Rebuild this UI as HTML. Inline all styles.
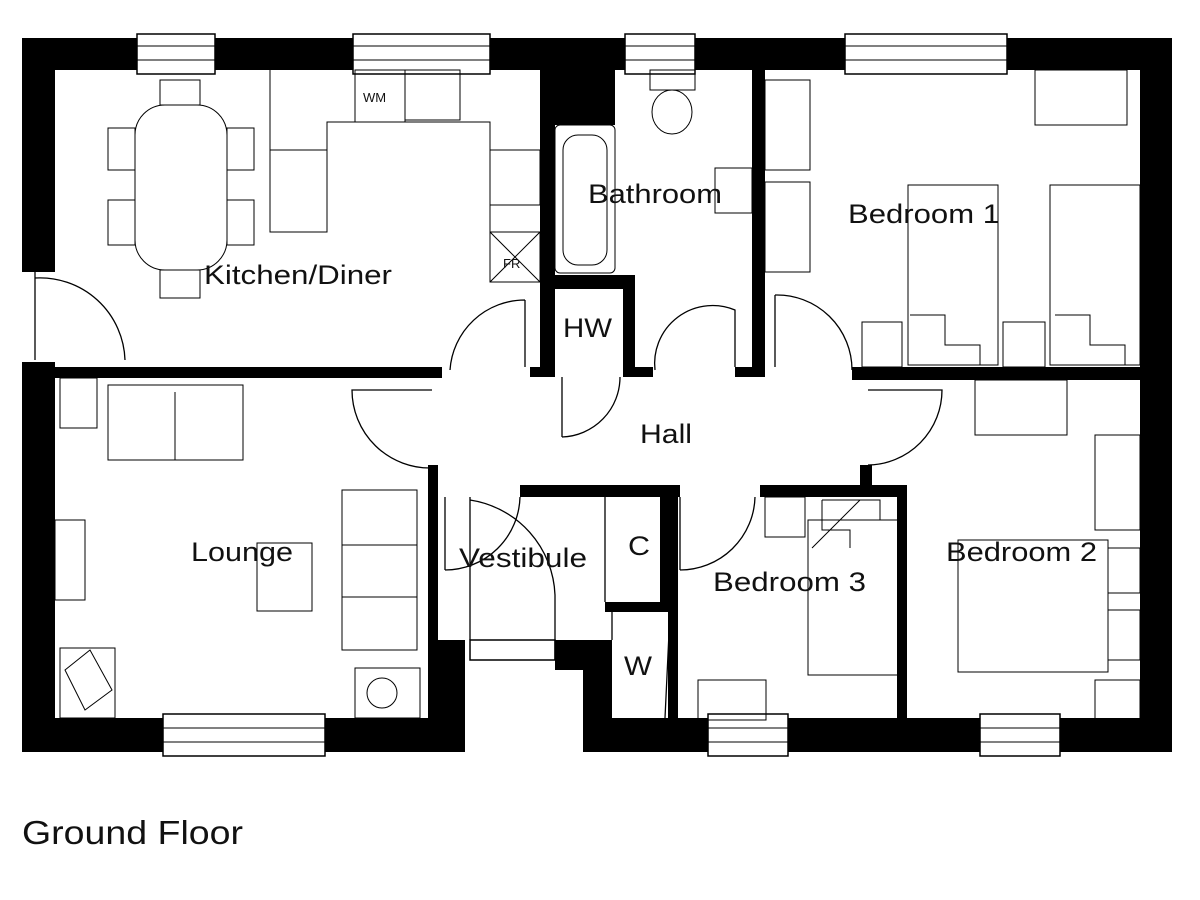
<!DOCTYPE html>
<html><head><meta charset="utf-8"><style>
html,body{margin:0;padding:0;background:#fff;}
svg{display:block;}
text{font-family:"Liberation Sans",Arial,sans-serif;fill:#111;}
</style></head><body>
<svg width="1200" height="900" viewBox="0 0 1200 900">
<g fill="#000">
<rect x="22" y="38" width="1150" height="32"/>
<rect x="22" y="38" width="33" height="234"/>
<rect x="22" y="362" width="33" height="390"/>
<rect x="1140" y="38" width="32" height="714"/>
<rect x="22" y="718" width="436" height="34"/>
<rect x="428" y="640" width="37" height="112"/>
<rect x="583" y="718" width="589" height="34"/>
<rect x="555" y="640" width="57" height="30"/>
<rect x="583" y="640" width="29" height="112"/>
<rect x="22" y="367" width="420" height="11"/>
<rect x="428" y="465" width="10" height="180"/>
<rect x="540" y="38" width="15" height="337"/>
<rect x="540" y="70" width="75" height="55"/>
<rect x="530" y="367" width="25" height="10"/>
<rect x="543" y="275" width="92" height="14"/>
<rect x="623" y="275" width="12" height="102"/>
<rect x="623" y="367" width="30" height="10"/>
<rect x="752" y="70" width="13" height="307"/>
<rect x="735" y="367" width="30" height="10"/>
<rect x="852" y="367" width="320" height="13"/>
<rect x="520" y="485" width="160" height="12"/>
<rect x="760" y="485" width="147" height="12"/>
<rect x="860" y="465" width="12" height="32"/>
<rect x="897" y="485" width="10" height="235"/>
<rect x="660" y="485" width="10" height="127"/>
<rect x="605" y="602" width="65" height="10"/>
<rect x="668" y="485" width="10" height="235"/>
</g>
<g fill="#fff" stroke="#000" stroke-width="1.5">
<rect x="137" y="34" width="78" height="40"/>
<rect x="353" y="34" width="137" height="40"/>
<rect x="625" y="34" width="70" height="40"/>
<rect x="845" y="34" width="162" height="40"/>
<rect x="163" y="714" width="162" height="42"/>
<rect x="708" y="714" width="80" height="42"/>
<rect x="980" y="714" width="80" height="42"/>
<rect x="470" y="640" width="85" height="20"/>
</g>
<g stroke="#000" stroke-width="1">
<line x1="137" y1="46" x2="215" y2="46"/><line x1="137" y1="60" x2="215" y2="60"/>
<line x1="353" y1="46" x2="490" y2="46"/><line x1="353" y1="60" x2="490" y2="60"/>
<line x1="625" y1="46" x2="695" y2="46"/><line x1="625" y1="60" x2="695" y2="60"/>
<line x1="845" y1="46" x2="1007" y2="46"/><line x1="845" y1="60" x2="1007" y2="60"/>
<line x1="163" y1="728" x2="325" y2="728"/><line x1="163" y1="742" x2="325" y2="742"/>
<line x1="708" y1="728" x2="788" y2="728"/><line x1="708" y1="742" x2="788" y2="742"/>
<line x1="980" y1="728" x2="1060" y2="728"/><line x1="980" y1="742" x2="1060" y2="742"/>
</g>
<g fill="none" stroke="#000" stroke-width="1.3">
<path d="M35 272 L35 360 M35 278 A85 85 0 0 1 125 360"/>
<path d="M525 300 L525 367 M525 300 A75 75 0 0 0 450 370"/>
<path d="M562 377 L562 437 M562 437 A60 60 0 0 0 620 377"/>
<path d="M655 370 A58 58 0 0 1 735 310 L735 367"/>
<path d="M775 295 L775 367 M775 295 A75 75 0 0 1 852 370"/>
<path d="M432 390 L352 390 A78 78 0 0 0 432 468"/>
<path d="M868 390 L942 390 A75 75 0 0 1 868 465"/>
<path d="M445 497 L445 570 M445 570 A75 75 0 0 0 520 497"/>
<path d="M470 497 L470 640 M555 660 L555 595 A100 100 0 0 0 470 500"/>
<path d="M680 497 L680 570 M680 570 A75 75 0 0 0 755 497"/>
<path d="M605 497 L605 602 M612 612 L612 640 M670 612 L665 718"/>
</g>
<g fill="none" stroke="#000" stroke-width="1">
<rect x="135" y="105" width="92" height="165" rx="30"/>
<rect x="160" y="80" width="40" height="25"/><rect x="160" y="270" width="40" height="28"/>
<rect x="108" y="128" width="27" height="42"/><rect x="108" y="200" width="27" height="45"/>
<rect x="227" y="128" width="27" height="42"/><rect x="227" y="200" width="27" height="45"/>
<path d="M270 70 L270 232 L327 232 L327 122 L490 122 L490 282 L540 282 M270 150 L327 150"/>
<rect x="355" y="70" width="50" height="52"/><rect x="405" y="70" width="55" height="50"/>
<rect x="490" y="150" width="50" height="55"/><rect x="490" y="232" width="50" height="50"/>
<path d="M490 232 L540 282 M540 232 L490 282"/>
<rect x="555" y="125" width="60" height="148" rx="5"/><rect x="563" y="135" width="44" height="130" rx="15"/>
<rect x="650" y="70" width="45" height="20"/><ellipse cx="672" cy="112" rx="20" ry="22"/>
<rect x="715" y="168" width="37" height="45"/>
<rect x="765" y="80" width="45" height="90"/><rect x="765" y="182" width="45" height="90"/>
<rect x="1035" y="70" width="92" height="55"/>
<rect x="908" y="185" width="90" height="180"/><rect x="1050" y="185" width="90" height="180"/>
<rect x="862" y="322" width="40" height="45"/><rect x="1003" y="322" width="42" height="45"/>
<path d="M910 315 L945 315 L945 345 L980 345 L980 365 M1055 315 L1090 315 L1090 345 L1125 345 L1125 365"/>
<rect x="60" y="378" width="37" height="50"/>
<rect x="108" y="385" width="135" height="75"/><line x1="175" y1="392" x2="175" y2="460"/>
<rect x="342" y="490" width="75" height="160"/><line x1="342" y1="545" x2="417" y2="545"/><line x1="342" y1="597" x2="417" y2="597"/>
<rect x="55" y="520" width="30" height="80"/>
<rect x="257" y="543" width="55" height="68"/>
<rect x="60" y="648" width="55" height="70"/><path d="M65 670 L90 650 L112 690 L85 710 Z"/>
<rect x="355" y="668" width="65" height="50"/><circle cx="382" cy="693" r="15"/>
<rect x="975" y="380" width="92" height="55"/><rect x="1095" y="435" width="45" height="95"/>
<rect x="958" y="540" width="150" height="132"/><rect x="1108" y="548" width="32" height="45"/><rect x="1108" y="610" width="32" height="50"/>
<rect x="1095" y="680" width="45" height="40"/>
<rect x="808" y="520" width="90" height="155"/><rect x="765" y="497" width="40" height="40"/>
<path d="M822 500 L880 500 L880 520 M822 500 L822 530 L850 530 L850 548 M812 548 L860 500"/>
<rect x="698" y="680" width="68" height="40"/>
</g>
<g font-size="27">
<text x="204" y="284" textLength="188" lengthAdjust="spacingAndGlyphs">Kitchen/Diner</text>
<text x="588" y="203" textLength="134" lengthAdjust="spacingAndGlyphs">Bathroom</text>
<text x="848" y="223" textLength="152" lengthAdjust="spacingAndGlyphs">Bedroom 1</text>
<text x="563" y="337" textLength="49" lengthAdjust="spacingAndGlyphs">HW</text>
<text x="640" y="443" textLength="52" lengthAdjust="spacingAndGlyphs">Hall</text>
<text x="191" y="561" textLength="102" lengthAdjust="spacingAndGlyphs">Lounge</text>
<text x="459" y="567" textLength="128" lengthAdjust="spacingAndGlyphs">Vestibule</text>
<text x="628" y="555" textLength="22" lengthAdjust="spacingAndGlyphs">C</text>
<text x="713" y="591" textLength="153" lengthAdjust="spacingAndGlyphs">Bedroom 3</text>
<text x="946" y="561" textLength="151" lengthAdjust="spacingAndGlyphs">Bedroom 2</text>
<text x="624" y="675" textLength="28" lengthAdjust="spacingAndGlyphs">W</text>
<text x="22" y="844" font-size="33" textLength="221" lengthAdjust="spacingAndGlyphs">Ground Floor</text>
</g>
<g font-size="13"><text x="363" y="102">WM</text><text x="503" y="268">FR</text></g>
</svg>
</body></html>
